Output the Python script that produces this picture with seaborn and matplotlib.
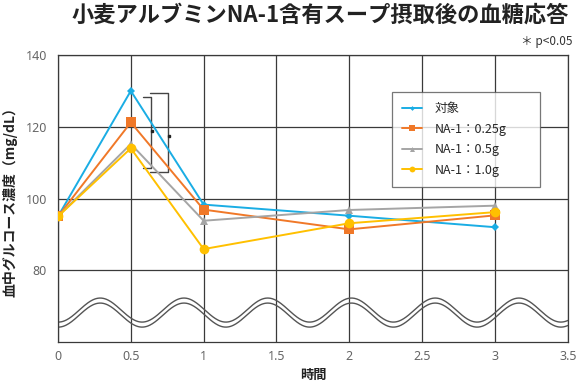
import numpy as np
import pandas as pd
import matplotlib
matplotlib.use("Agg")
import matplotlib.pyplot as plt
import seaborn as sns

# ---- data ----
times = [0, 0.5, 1, 2, 3]
series_names = ["対象", "NA-1：0.25g", "NA-1：0.5g", "NA-1：1.0g"]
control = [95, 130, 98.3, 95.2, 92.0]
na_025 = [95, 121.2, 96.9, 91.4, 95.3]
na_05 = [95, 115.2, 93.8, 96.8, 98.0]
na_10 = [95, 114.0, 85.9, 93.1, 96.2]
x_ticks = [0, 0.5, 1, 1.5, 2, 2.5, 3, 3.5]
y_ticks = [80, 100, 120, 140]
title = "小麦アルブミンNA-1含有スープ摂取後の血糖応答"
ylabel = "血中グルコース濃度（mg/dL）"
xlabel = "時間"
note = "＊ p<0.05"

# ---- style ----
sns.set_style("white")
plt.rcParams['font.family'] = ['Noto Sans CJK JP', 'DejaVu Sans']

colors = ["#1AADE4", "#F07828", "#A5A5A5", "#FFC000"]
markers = ["D", "s", "^", "o"]
msizes = [4, 7, 6, 7]

df = pd.DataFrame({
    "時間": times * 4,
    "値": control + na_025 + na_05 + na_10,
    "系列": sum([[n] * len(times) for n in series_names], []),
})

fig = plt.figure(figsize=(5.77, 3.86), dpi=100)
ax = fig.add_axes([0.1005, 0.114, 0.8835, 0.7435])

grid_c = "#3a3a3a"
for xv in x_ticks:
    ax.axvline(xv, color=grid_c, lw=0.9, zorder=1)
for yv in y_ticks:
    ax.axhline(yv, color=grid_c, lw=0.9, zorder=1)

for name, c, m, ms in zip(series_names, colors, markers, msizes):
    sub = df[df["系列"] == name]
    sns.lineplot(data=sub, x="時間", y="値", ax=ax, color=c, marker=m,
                 markersize=ms, markeredgewidth=0, lw=1.4, label=name,
                 zorder=3)

# axis-break wave (decorative)
wx = np.linspace(0, 3.5, 600)
w_center, w_amp, w_period, w_peak, w_gap = 68.9, 3.35, 0.575, 0.29, 1.4
wave = w_center + w_amp * np.cos(2 * np.pi * (wx - w_peak) / w_period)
ax.plot(wx, wave, color="#555555", lw=1.0, zorder=2)
ax.plot(wx, wave - w_gap, color="#555555", lw=1.0, zorder=2)

# significance brackets
bc = "#444444"
b1_x0, b1_x1, b1_top, b1_bot = 0.585, 0.638, 128.3, 108.4
ax.plot([b1_x0, b1_x1, b1_x1, b1_x0], [b1_top, b1_top, b1_bot, b1_bot],
        color=bc, lw=1.0, zorder=2)
b2_x0, b2_x1, b2_top, b2_bot = 0.631, 0.755, 129.4, 107.4
ax.plot([b2_x0, b2_x1, b2_x1, b2_x0], [b2_top, b2_top, b2_bot, b2_bot],
        color=bc, lw=1.0, zorder=2)
ax.plot([0.645], [118.8], marker="s", ms=2, color="#222222", zorder=4)
ax.plot([0.762], [117.4], marker="s", ms=2, color="#222222", zorder=4)

ax.set_xlim(0, 3.5)
ax.set_ylim(60, 140)
ax.set_xticks(x_ticks)
ax.set_xticklabels([f"{v:g}" for v in x_ticks])
ax.set_yticks(y_ticks)
ax.tick_params(axis="x", length=0, labelsize=9, colors="#666666", pad=6)
ax.tick_params(axis="y", length=0, labelsize=9, colors="#666666", pad=8)
for lab in ax.get_xticklabels() + ax.get_yticklabels():
    lab.set_family(["Noto Sans", "DejaVu Sans"])
for s in ax.spines.values():
    s.set_color(grid_c)
    s.set_linewidth(0.9)

ax.set_xlabel(xlabel, fontsize=9.5, fontweight="bold", color="#222222", labelpad=3)
ax.set_ylabel(ylabel, fontsize=10, fontweight="bold", color="#222222", labelpad=6)

leg = ax.legend(loc="upper left", bbox_to_anchor=(0.655, 0.5, 0.29, 0.371),
                mode="expand", fontsize=9,
                frameon=True, fancybox=False, edgecolor="#555555",
                borderpad=0.8, labelspacing=0.6, handlelength=1.6,
                handletextpad=1.0, borderaxespad=0)
leg.get_frame().set_linewidth(0.9)
leg.set_zorder(5)
for h, ms in zip(leg.legend_handles, msizes):
    h.set_markersize(ms * 0.6)

fig.text(0.555, 0.962, title, ha="center", va="center", fontsize=16,
         fontweight="bold", color="#222222")
fig.text(0.993, 0.893, note, ha="right", va="center", fontsize=8.5,
         color="#333333")

fig.savefig("out.png", dpi=100)
